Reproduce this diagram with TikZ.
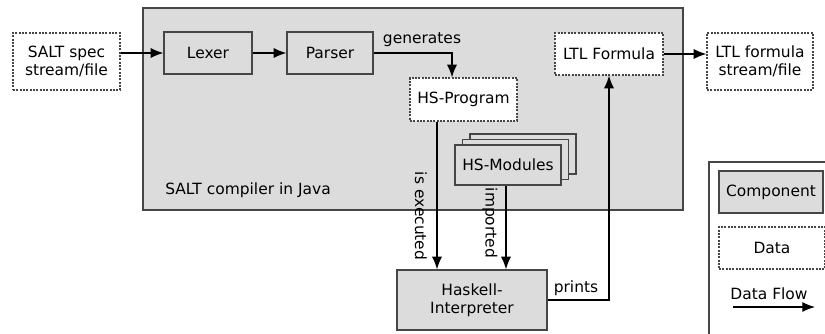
\documentclass[tikz,border=0pt]{standalone}
\usepackage{fontspec}
\setmainfont{DejaVu Sans}
\usetikzlibrary{arrows.meta,calc}
\definecolor{compfill}{RGB}{220,220,220}
\definecolor{edgeclr}{RGB}{70,70,70}
\tikzset{
  box/.style={draw=edgeclr,line width=0.9pt,inner sep=0pt,align=center},
  comp/.style={box,fill=compfill},
  datum/.style={box,fill=white,dash pattern=on 1.5pt off 1pt},
  flow/.style={draw=black,line width=0.9pt,-{Latex[length=9.5pt,width=7.5pt]}},
  lbl/.style={inner sep=0.75pt}
}
\begin{document}
\begin{tikzpicture}[x=0.75pt,y=0.75pt,yscale=-1,xscale=1,font=\fontsize{11.6}{13.6}\selectfont]
\useasboundingbox (0,0) rectangle (825,333);

%Shape: compiler frame
\node[comp,minimum width=405pt,minimum height=151.5pt] (compiler) at (413,109) {};
\node[lbl,anchor=west] (complbl) at (164,190) {SALT compiler in Java};

%Shape: components
\node[comp,minimum width=66pt,minimum height=31.5pt] (lexer) at (208,53) {Lexer};
\node[comp,minimum width=64.5pt,minimum height=31.5pt] (parser) at (330,53) {Parser};
\node[comp,minimum width=79.5pt,minimum height=30pt] (hsmod3) at (523,154) {};
\node[comp,minimum width=79.5pt,minimum height=30pt] (hsmod2) at (515.5,159.5) {};
\node[comp,minimum width=79.5pt,minimum height=30pt] (hsmod) at (508,165) {HS-Modules};
\node[comp,minimum width=112.5pt,minimum height=45pt] (haskell) at (472,300) {Haskell-\\Interpreter};

%Shape: data
\node[datum,minimum width=80.25pt,minimum height=42.75pt] (spec) at (66.5,61.5) {SALT spec\\stream/file};
\node[datum,minimum width=80.25pt,minimum height=32.25pt] (hsprog) at (463.5,99.5) {HS-Program};
\node[datum,minimum width=81pt,minimum height=31.5pt] (ltl) at (609,54) {LTL Formula};
\node[datum,minimum width=79.5pt,minimum height=42.75pt] (ltlout) at (760,61.5) {LTL formula\\stream/file};

%Straight Lines
\draw[flow] (spec.east |- lexer.west) -- (lexer.west);
\draw[flow] (lexer) -- (parser);
\coordinate (gen) at ($(hsprog.north)+(-11.5,0)$);
\draw[flow] (parser.east) -| (gen);
\draw[flow] (ltl) -- (ltlout.west |- ltl.east);
\coordinate (exe) at ($(hsprog.south)+(-26.5,0)$);
\draw[flow] (exe) -- (exe |- haskell.north);
\coordinate (imp) at ($(hsmod.south)+(-2,0)$);
\draw[flow] (imp) -- (imp |- haskell.north);
\draw[flow] (haskell.east) -| (ltl.south);

% Text Node
\node[lbl] (genlbl) at (422,40) {generates};
\node[lbl,rotate=-90] (exelbl) at (421,216) {is executed};
\node[lbl,rotate=-90] (implbl) at (490,223) {imported};
\node[lbl] (prtlbl) at (576,288) {prints};

%Shape: legend
\draw[edgeclr,line width=0.9pt] (709,334) -- (709,162) -- (826,162);
\node[comp,minimum width=78pt,minimum height=31.5pt] (legcomp) at (771,192) {Component};
\node[datum,minimum width=79.5pt,minimum height=31.5pt] (legdata) at (772,248) {Data};
\node[lbl] (legflow) at (769,294) {Data Flow};
\coordinate (fla) at (733,307);
\coordinate (flb) at (815,307);
\draw[flow] (fla) -- (flb);

\end{tikzpicture}
\end{document}
